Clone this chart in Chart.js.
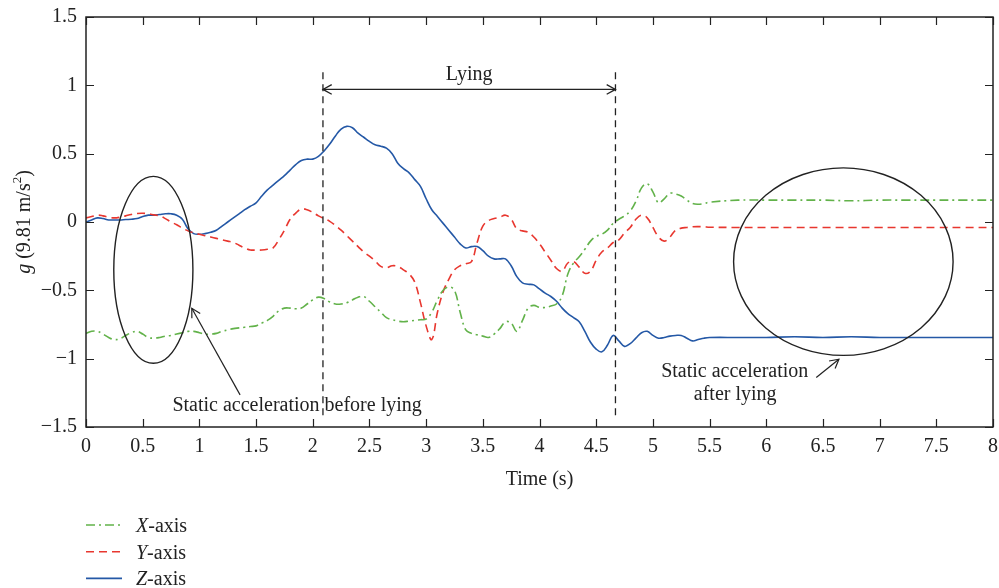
<!DOCTYPE html>
<html>
<head>
<meta charset="utf-8">
<script src="https://cdn.jsdelivr.net/npm/chart.js@4.4.1/dist/chart.umd.min.js"></script>
<style>
  body { margin: 0; background: #fff; }
</style>
</head>
<body>
<canvas id="myChart" width="999" height="588"></canvas>
<script>
// time axis (s)
const timeSec = [
  0, 0.05, 0.1, 0.15, 0.2, 0.25, 0.3, 0.35, 0.4, 0.45,
  0.5, 0.55, 0.6, 0.65, 0.7, 0.75, 0.8, 0.85, 0.9, 0.95,
  1, 1.05, 1.1, 1.15, 1.2, 1.25, 1.3, 1.35, 1.4, 1.45,
  1.5, 1.55, 1.6, 1.65, 1.7, 1.75, 1.8, 1.85, 1.9, 1.95,
  2, 2.05, 2.1, 2.15, 2.2, 2.25, 2.3, 2.35, 2.4, 2.45,
  2.5, 2.55, 2.6, 2.65, 2.7, 2.75, 2.8, 2.85, 2.9, 2.95,
  3, 3.05, 3.1, 3.15, 3.2, 3.25, 3.3, 3.35, 3.4, 3.45,
  3.5, 3.55, 3.6, 3.65, 3.7, 3.75, 3.8, 3.85, 3.9, 3.95,
  4, 4.05, 4.1, 4.15, 4.2, 4.25, 4.3, 4.35, 4.4, 4.45,
  4.5, 4.55, 4.6, 4.65, 4.7, 4.75, 4.8, 4.85, 4.9, 4.95,
  5, 5.05, 5.1, 5.15, 5.2, 5.25, 5.3, 5.35, 5.4, 5.45,
  5.5,
  5.75, 6, 6.25, 6.5, 6.75, 7, 7.25, 7.5, 7.75, 8
];

const xAxisG = [
  -0.815, -0.80, -0.80, -0.82, -0.845, -0.86, -0.855, -0.83, -0.81, -0.80,
  -0.82, -0.845, -0.85, -0.845, -0.835, -0.83, -0.82, -0.81, -0.80, -0.80,
  -0.81, -0.82, -0.82, -0.815, -0.80, -0.79, -0.78, -0.775, -0.77, -0.765,
  -0.76, -0.74, -0.72, -0.69, -0.65, -0.63, -0.63, -0.635, -0.63, -0.60,
  -0.57, -0.55, -0.56, -0.585, -0.60, -0.60, -0.59, -0.57, -0.55, -0.545,
  -0.58, -0.62, -0.66, -0.70, -0.715, -0.725, -0.73, -0.725, -0.72, -0.715,
  -0.71, -0.66, -0.57, -0.50, -0.475, -0.50, -0.66, -0.79, -0.815, -0.825,
  -0.835, -0.845, -0.82, -0.78, -0.73, -0.74, -0.80, -0.72, -0.63, -0.61,
  -0.625, -0.625, -0.615, -0.60, -0.54, -0.38, -0.30, -0.255, -0.20, -0.14,
  -0.105, -0.09, -0.06, -0.01, 0.02, 0.045, 0.08, 0.15, 0.25, 0.28,
  0.22, 0.14, 0.17, 0.21, 0.205, 0.19, 0.16, 0.135, 0.13, 0.135,
  0.145,
  0.16, 0.16, 0.16, 0.16, 0.155, 0.16, 0.16, 0.16, 0.16, 0.16
];

const yAxisG = [
  0.03, 0.04, 0.05, 0.045, 0.035, 0.03, 0.035, 0.045, 0.055, 0.062,
  0.064, 0.06, 0.052, 0.045, 0.025, 0.00, -0.02, -0.045, -0.065, -0.08,
  -0.09, -0.10, -0.11, -0.12, -0.13, -0.14, -0.15, -0.17, -0.19, -0.205,
  -0.205, -0.205, -0.20, -0.19, -0.13, -0.06, 0.02, 0.065, 0.095, 0.09,
  0.07, 0.045, 0.025, 0.005, -0.025, -0.06, -0.10, -0.14, -0.18, -0.22,
  -0.25, -0.285, -0.325, -0.335, -0.32, -0.325, -0.35, -0.38, -0.44, -0.59,
  -0.76, -0.86, -0.66, -0.51, -0.42, -0.35, -0.32, -0.305, -0.29, -0.15,
  -0.03, 0.01, 0.025, 0.035, 0.05, 0.02, -0.05, -0.065, -0.075, -0.11,
  -0.16, -0.22, -0.28, -0.34, -0.36, -0.30, -0.29, -0.33, -0.375, -0.36,
  -0.28, -0.22, -0.19, -0.15, -0.13, -0.08, -0.04, 0.02, 0.05, 0.03,
  -0.04, -0.11, -0.14, -0.11, -0.06, -0.045, -0.04, -0.035, -0.034, -0.035,
  -0.038,
  -0.04, -0.04, -0.04, -0.04, -0.04, -0.04, -0.04, -0.04, -0.04, -0.04
];

const zAxisG = [
  0.00, 0.015, 0.03, 0.025, 0.015, 0.015, 0.015, 0.018, 0.02, 0.025,
  0.04, 0.05, 0.05, 0.055, 0.06, 0.06, 0.05, 0.02, -0.05, -0.085,
  -0.09, -0.085, -0.075, -0.06, -0.03, 0.00, 0.03, 0.06, 0.09, 0.115,
  0.14, 0.19, 0.235, 0.27, 0.305, 0.34, 0.38, 0.42, 0.45, 0.46,
  0.46, 0.48, 0.52, 0.57, 0.63, 0.68, 0.70, 0.69, 0.65, 0.62,
  0.59, 0.565, 0.555, 0.54, 0.50, 0.43, 0.39, 0.36, 0.31, 0.26,
  0.17, 0.09, 0.04, -0.01, -0.06, -0.11, -0.16, -0.19, -0.18, -0.18,
  -0.21, -0.25, -0.27, -0.27, -0.27, -0.32, -0.40, -0.445, -0.455, -0.46,
  -0.49, -0.52, -0.545, -0.58, -0.63, -0.67, -0.70, -0.73, -0.80, -0.88,
  -0.93, -0.95, -0.90, -0.83, -0.87, -0.91, -0.89, -0.85, -0.81, -0.80,
  -0.83, -0.85, -0.845, -0.835, -0.83, -0.83, -0.85, -0.87, -0.86, -0.85,
  -0.845,
  -0.845, -0.845, -0.84, -0.845, -0.84, -0.845, -0.845, -0.845, -0.845, -0.845
];

const xTicks = [0, 0.5, 1, 1.5, 2, 2.5, 3, 3.5, 4, 4.5, 5, 5.5, 6, 6.5, 7, 7.5, 8];
const yTicks = [-1.5, -1, -0.5, 0, 0.5, 1, 1.5];

// start / end of lying (s)
const lyingStart = 2.09;
const lyingEnd = 4.67;

const FONT = '"Liberation Serif", "DejaVu Serif", serif';
const INK = '#222';
const FS = 20;

const toPoints = (vals) => vals.map((v, i) => ({ x: timeSec[i], y: v }));

const series = [
  { label: 'X', data: xAxisG, color: '#62b24a', dash: [9, 4, 2, 4] },
  { label: 'Y', data: yAxisG, color: '#e8372f', dash: [8, 5] },
  { label: 'Z', data: zAxisG, color: '#2458a6', dash: [] },
];

function arrowHead(ctx, x0, y0, x1, y1, len) {
  const ang = Math.atan2(y1 - y0, x1 - x0);
  ctx.beginPath();
  ctx.moveTo(x1 - len * Math.cos(ang - 0.5), y1 - len * Math.sin(ang - 0.5));
  ctx.lineTo(x1, y1);
  ctx.lineTo(x1 - len * Math.cos(ang + 0.5), y1 - len * Math.sin(ang + 0.5));
  ctx.stroke();
}

function arrow(ctx, x0, y0, x1, y1) {
  ctx.beginPath();
  ctx.moveTo(x0, y0);
  ctx.lineTo(x1, y1);
  ctx.stroke();
  arrowHead(ctx, x0, y0, x1, y1, 10);
}

const annotate = {
  id: 'annotate',
  afterDraw(chart) {
    const { ctx, chartArea: a, scales: { x, y } } = chart;
    ctx.save();
    ctx.strokeStyle = INK;
    ctx.fillStyle = INK;

    // frame and inward ticks
    ctx.lineWidth = 1.5;
    ctx.setLineDash([]);
    ctx.strokeRect(a.left, a.top, a.right - a.left, a.bottom - a.top);
    ctx.lineWidth = 1.2;
    ctx.beginPath();
    xTicks.forEach((t) => {
      const px = Math.round(x.getPixelForValue(t)) + 0.5;
      ctx.moveTo(px, a.bottom); ctx.lineTo(px, a.bottom - 8);
      ctx.moveTo(px, a.top); ctx.lineTo(px, a.top + 8);
    });
    yTicks.forEach((v) => {
      const py = Math.round(y.getPixelForValue(v)) + 0.5;
      ctx.moveTo(a.left, py); ctx.lineTo(a.left + 8, py);
      ctx.moveTo(a.right, py); ctx.lineTo(a.right - 8, py);
    });
    ctx.stroke();

    // lying markers
    ctx.lineWidth = 1.3;
    ctx.setLineDash([7, 5]);
    [lyingStart, lyingEnd].forEach((t) => {
      const px = x.getPixelForValue(t);
      ctx.beginPath();
      ctx.moveTo(px, y.getPixelForValue(1.095));
      ctx.lineTo(px, y.getPixelForValue(-1.445));
      ctx.stroke();
    });
    ctx.setLineDash([]);
    const ay = y.getPixelForValue(0.97);
    const x0 = x.getPixelForValue(lyingStart), x1 = x.getPixelForValue(lyingEnd);
    ctx.beginPath();
    ctx.moveTo(x0, ay); ctx.lineTo(x1, ay);
    ctx.stroke();
    arrowHead(ctx, x1, ay, x0, ay, 10);
    arrowHead(ctx, x0, ay, x1, ay, 10);

    ctx.font = FS + 'px ' + FONT;
    ctx.textAlign = 'center';
    ctx.textBaseline = 'alphabetic';
    ctx.fillText('Lying', x.getPixelForValue((lyingStart + lyingEnd) / 2), y.getPixelForValue(1.04));

    // ellipses
    ctx.lineWidth = 1.4;
    ctx.beginPath();
    ctx.ellipse(x.getPixelForValue(0.594), y.getPixelForValue(-0.35),
      x.getPixelForValue(0.594) - x.getPixelForValue(0.245),
      y.getPixelForValue(-1.034) - y.getPixelForValue(-0.35), 0, 0, Math.PI * 2);
    ctx.stroke();
    ctx.beginPath();
    ctx.ellipse(x.getPixelForValue(6.68), y.getPixelForValue(-0.29),
      x.getPixelForValue(6.68) - x.getPixelForValue(5.712),
      y.getPixelForValue(-0.976) - y.getPixelForValue(-0.29), 0, 0, Math.PI * 2);
    ctx.stroke();

    // callouts
    ctx.lineWidth = 1.2;
    arrow(ctx, x.getPixelForValue(1.359), y.getPixelForValue(-1.265),
      x.getPixelForValue(0.933), y.getPixelForValue(-0.631));
    arrow(ctx, x.getPixelForValue(6.441), y.getPixelForValue(-1.138),
      x.getPixelForValue(6.641), y.getPixelForValue(-1.004));
    ctx.font = FS + 'px ' + FONT;
    ctx.fillText('Static acceleration before lying', x.getPixelForValue(1.862), y.getPixelForValue(-1.383));
    ctx.fillText('Static acceleration', x.getPixelForValue(5.722), y.getPixelForValue(-1.136));
    ctx.fillText('after lying', x.getPixelForValue(5.726), y.getPixelForValue(-1.302));

    // axis titles
    ctx.fillText('Time (s)', (a.left + a.right) / 2, 485);
    ctx.save();
    ctx.translate(30, (a.top + a.bottom) / 2);
    ctx.rotate(-Math.PI / 2);
    const gPart = 'g', rest = ' (9.81 m/s', sup = '2', close = ')';
    ctx.font = 'italic ' + FS + 'px ' + FONT;
    const wg = ctx.measureText(gPart).width;
    ctx.font = FS + 'px ' + FONT;
    const wr = ctx.measureText(rest).width;
    const wc = ctx.measureText(close).width;
    ctx.font = '13px ' + FONT;
    const ws = ctx.measureText(sup).width;
    let cx = -(wg + wr + ws + wc) / 2;
    ctx.textAlign = 'left';
    ctx.font = 'italic ' + FS + 'px ' + FONT;
    ctx.fillText(gPart, cx, 0); cx += wg;
    ctx.font = FS + 'px ' + FONT;
    ctx.fillText(rest, cx, 0); cx += wr;
    ctx.font = '13px ' + FONT;
    ctx.fillText(sup, cx, -9); cx += ws;
    ctx.font = FS + 'px ' + FONT;
    ctx.fillText(close, cx, 0);
    ctx.restore();

    // legend
    ctx.textAlign = 'left';
    series.forEach((s, i) => {
      const ly = 525 + i * 26.7;
      ctx.strokeStyle = s.color;
      ctx.lineWidth = 1.6;
      ctx.setLineDash(s.dash);
      ctx.beginPath();
      ctx.moveTo(86, ly); ctx.lineTo(122, ly);
      ctx.stroke();
      ctx.setLineDash([]);
      ctx.fillStyle = INK;
      ctx.font = 'italic ' + FS + 'px ' + FONT;
      ctx.fillText(s.label, 136, ly + 7);
      const w = ctx.measureText(s.label).width;
      ctx.font = FS + 'px ' + FONT;
      ctx.fillText('-axis', 136 + w, ly + 7);
    });
    ctx.restore();
  }
};

const ctx = document.getElementById('myChart').getContext('2d');

// eslint-disable-next-line no-undef, no-unused-vars
const chart = new Chart(ctx, {
  type: 'line',
  data: {
    datasets: series.map((s) => ({
      label: s.label + '-axis',
      data: toPoints(s.data),
      borderColor: s.color,
      backgroundColor: s.color,
      borderDash: s.dash,
      borderWidth: 1.6,
      pointRadius: 0,
      tension: 0.4,
      fill: false,
    })),
  },
  options: {
    responsive: false,
    animation: false,
    layout: { padding: { top: 17, right: 6, left: 0, bottom: 0 } },
    plugins: { legend: { display: false }, tooltip: { enabled: false } },
    scales: {
      x: {
        type: 'linear',
        min: 0,
        max: 8,
        afterBuildTicks: (scale) => { scale.ticks = xTicks.map((v) => ({ value: v })); },
        grid: { display: false, drawTicks: false },
        border: { display: false },
        ticks: { padding: 8, color: INK, font: { family: FONT, size: FS }, maxRotation: 0, callback: (v) => String(v) },
        afterFit: (scale) => { scale.height = 161; scale.paddingLeft = 0; scale.paddingRight = 0; },
      },
      y: {
        min: -1.5,
        max: 1.5,
        afterBuildTicks: (scale) => { scale.ticks = yTicks.map((v) => ({ value: v })); },
        grid: { display: false, drawTicks: false },
        border: { display: false },
        ticks: { padding: 9, color: INK, font: { family: FONT, size: FS }, callback: (v) => String(v).replace('-', '\u2212') },
        afterFit: (scale) => { scale.width = 86; scale.paddingTop = 0; scale.paddingBottom = 0; },
      },
    },
  },
  plugins: [annotate],
});
</script>
</body>
</html>
